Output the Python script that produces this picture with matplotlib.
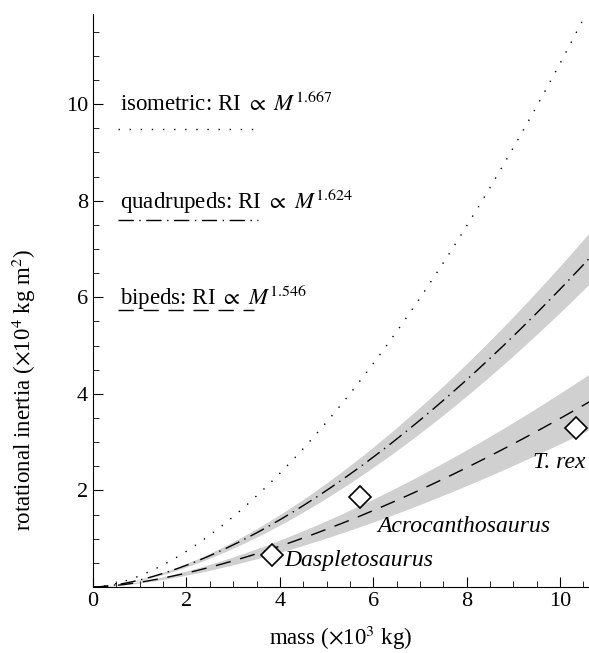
import numpy as np
import matplotlib
matplotlib.use('Agg')
import matplotlib.pyplot as plt
from matplotlib.ticker import MultipleLocator

plt.rcParams['font.family'] = 'Liberation Serif'
plt.rcParams['mathtext.fontset'] = 'stix'

# power-law fits, RI (x10^4 kg m^2) vs mass (x10^3 kg)
iso_coef, iso_exp = 0.2335, 1.667
quad_coef, quad_exp = 0.1466, 1.624
biped_coef, biped_exp = 0.0993, 1.546
# shaded band around the fits (relative half width)
quad_band = 0.078
biped_band = 0.15

# dinosaurs
species = ['Daspletosaurus', 'Acrocanthosaurus', 'T. rex']
species_mass = [3.83, 5.72, 10.34]
species_ri = [0.66, 1.87, 3.3]
label_pos = [(4.1, 0.54), (6.08, 1.26), (9.42, 2.57)]

legend_text = [r'isometric: RI $\propto$ $M^{1.667}$',
               r'quadrupeds: RI $\propto$ $M^{1.624}$',
               r'bipeds: RI $\propto$ $M^{1.546}$']
legend_y = [10.0, 8.0, 6.0]
legend_line_y = [9.48, 7.6, 5.73]
legend_line_end = [3.53, 3.53, 3.45]

fig = plt.figure(figsize=(5.89, 6.53), dpi=100)
ax = fig.add_axes([0.158, 0.101, 0.842, 0.877])

m = np.linspace(0.0, 10.7, 400)
iso = iso_coef * m ** iso_exp
quad = quad_coef * m ** quad_exp
biped = biped_coef * m ** biped_exp

grey = '#d0d0d0'
ax.fill_between(m, quad * (1 - quad_band), quad * (1 + quad_band), color=grey, lw=0)
ax.fill_between(m, biped * (1 - biped_band), biped * (1 + biped_band), color=grey, lw=0)

dot_style = (0, (1, 7))
dashdot_style = (0, (11, 4, 1, 4))
dash_style = (0, (11, 7))
ax.plot(m, iso, color='k', lw=1.0, linestyle=dot_style)
ax.plot(m, quad, color='k', lw=1.0, linestyle=dashdot_style)
ax.plot(m, biped, color='k', lw=1.0, linestyle=dash_style)

ax.plot(species_mass, species_ri, linestyle='none', marker='D', markersize=11,
        markerfacecolor='white', markeredgecolor='k', markeredgewidth=1.2)
for name, (lx, ly) in zip(species, label_pos):
    ax.text(lx, ly, name, fontsize=17, style='italic', va='center', ha='left')

styles = [dot_style, dashdot_style, dash_style]
for txt, ty, ly, le, st in zip(legend_text, legend_y, legend_line_y, legend_line_end, styles):
    ax.text(0.58, ty, txt, fontsize=16.5, va='center', ha='left')
    ax.plot([0.54, le], [ly, ly], color='k', lw=1.0, linestyle=st)

ax.set_xlim(0, 10.62)
ax.set_ylim(0, 11.86)
ax.spines['top'].set_visible(False)
ax.spines['right'].set_visible(False)
ax.xaxis.set_major_locator(MultipleLocator(2))
ax.xaxis.set_minor_locator(MultipleLocator(0.5))
ax.set_yticks([2, 4, 6, 8, 10])
ax.yaxis.set_minor_locator(MultipleLocator(0.5))
ax.tick_params(which='both', direction='in', labelsize=16)
ax.tick_params(which='major', length=7)
ax.tick_params(which='minor', length=4)
ax.set_xlabel(r'mass ($\times$10$^{3}$ kg)', fontsize=16.5)
ax.set_ylabel(r'rotational inertia ($\times$10$^{4}$ kg m$^{2}$)', fontsize=16.5)
ax.xaxis.set_label_coords(0.5, -0.065)
ax.yaxis.set_label_coords(-0.112, 0.344)

fig.savefig('out.png', dpi=100)
